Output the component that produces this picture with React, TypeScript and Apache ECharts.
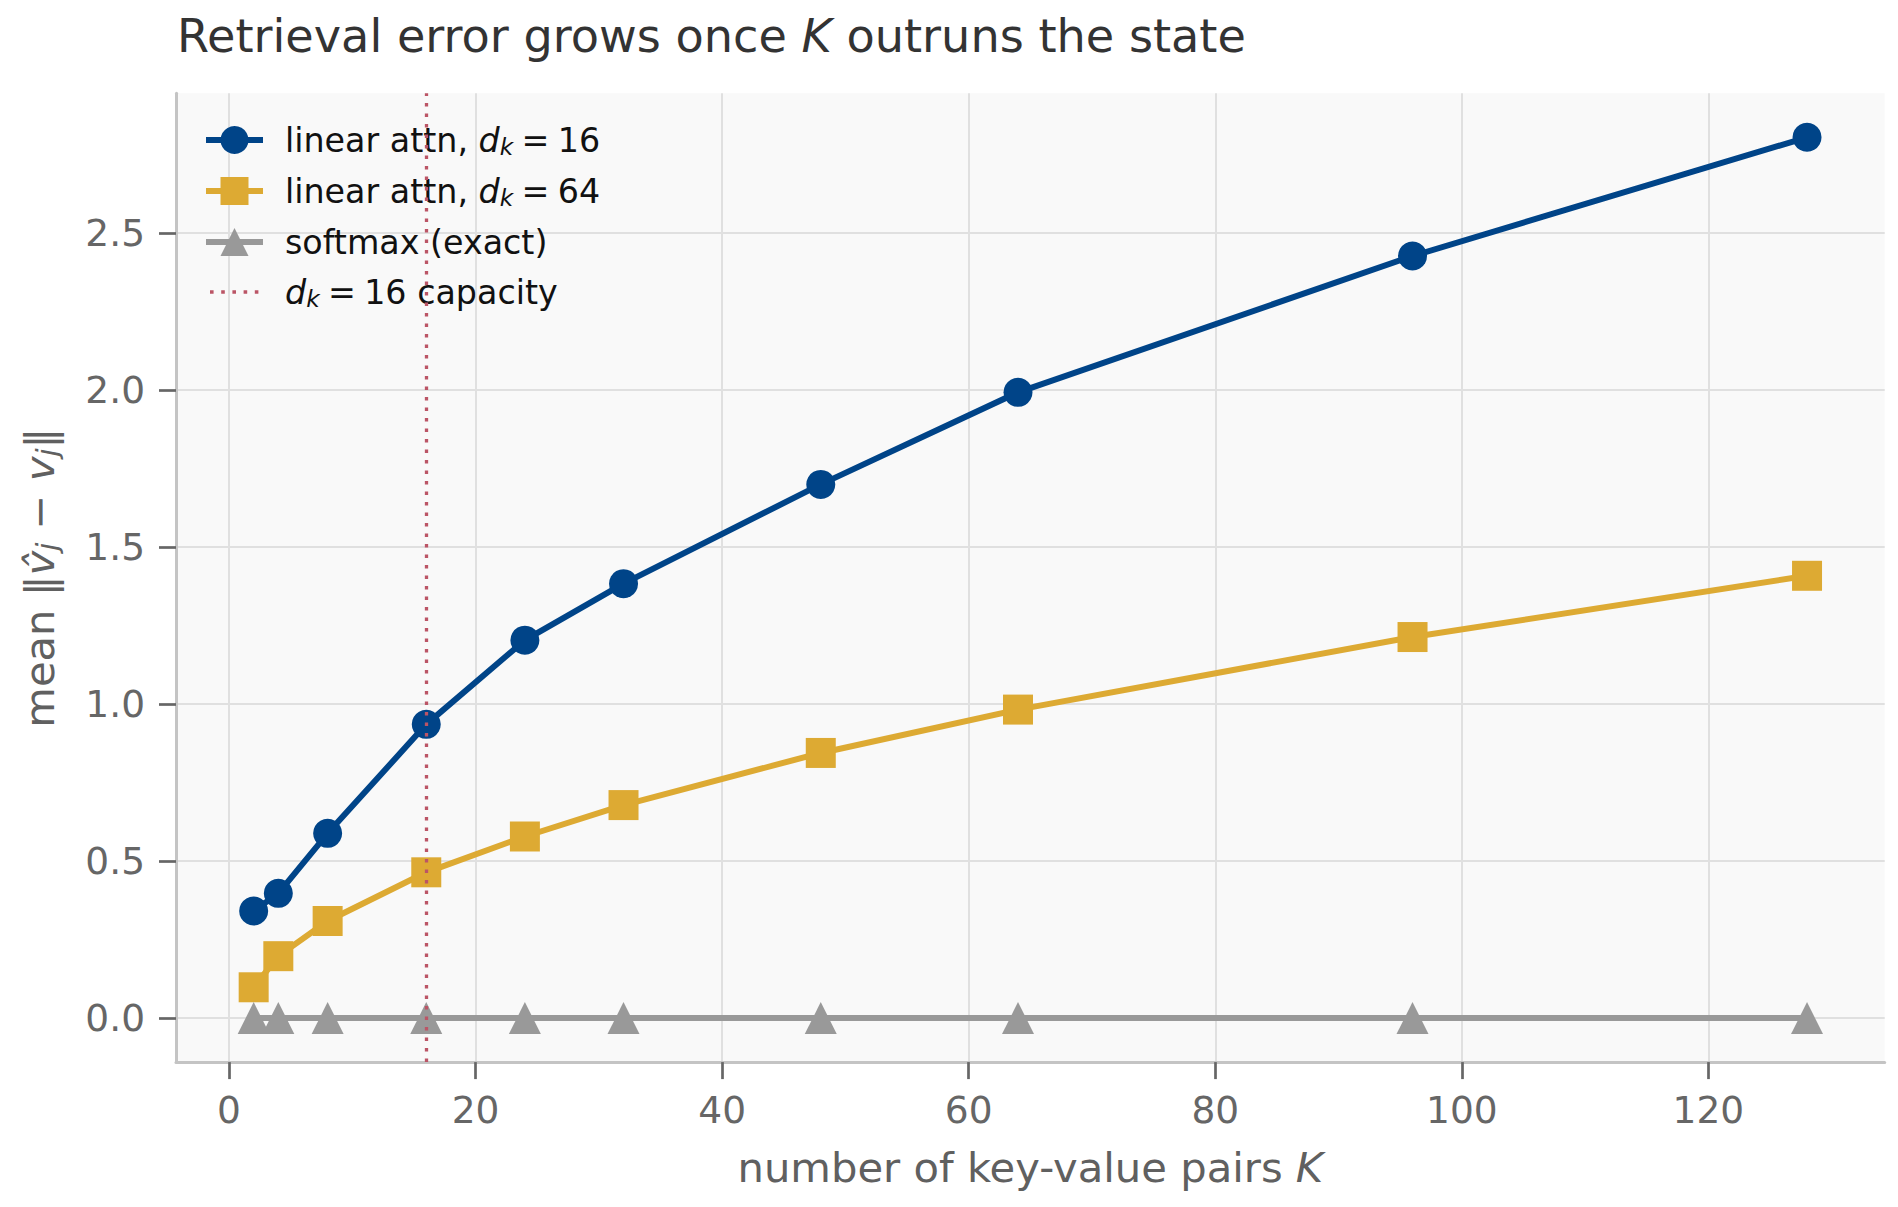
import React, { useEffect, useRef } from 'react';
import * as echarts from 'echarts';

// ---- data ----
const K = [2, 4, 8, 16, 24, 32, 48, 64, 96, 128];
const linearDk16 = [0.341, 0.397, 0.588, 0.935, 1.203, 1.383, 1.699, 1.992, 2.426, 2.804];
const linearDk64 = [0.098, 0.197, 0.309, 0.464, 0.578, 0.678, 0.844, 0.982, 1.213, 1.408];
const softmaxExact = [0, 0, 0, 0, 0, 0, 0, 0, 0, 0];
const capacityK = 16;
const xTicks = [0, 20, 40, 60, 80, 100, 120];
const yTicks = [0, 0.5, 1.0, 1.5, 2.0, 2.5];
const seriesNames = ['linear attn, d_k=16', 'linear attn, d_k=64', 'softmax (exact)', 'd_k=16 capacity'];
const EQ = '\u2005=\u2005';
const legendLabels: Record<string, string> = {
  'linear attn, d_k=16': `{g| }{t|linear attn, }{i|d}{s|k}{t|${EQ}16}`,
  'linear attn, d_k=64': `{g| }{t|linear attn, }{i|d}{s|k}{t|${EQ}64}`,
  'softmax (exact)': '{g| }{t|softmax (exact)}',
  'd_k=16 capacity': `{g| }{i|d}{s|k}{t|${EQ}16 capacity}`,
};

const FONT = 'DejaVu Sans';
const BLUE = '#004488';
const YELLOW = '#DDAA33';
const GREY = '#999999';
const RED = '#BB5566';

const dotsIcon =
  'path://M0,1.75h0.01v0.01h-0.01z M4,0h3.6v3.5h-3.6z M15.2,0h3.6v3.5h-3.6z M26.4,0h3.6v3.5h-3.6z M37.6,0h3.6v3.5h-3.6z M48.8,0h3.6v3.5h-3.6z M56.99,1.75h0.01v0.01h-0.01z';

export default function App() {
  const ref = useRef<HTMLDivElement>(null);
  useEffect(() => {
    if (!ref.current) return;
    const chart = echarts.init(ref.current, undefined, { renderer: 'svg' });
    const toPairs = (vals: number[]) => K.map((k, i) => [k, vals[i]]);
    const tickLabelStyle = { fontFamily: FONT, fontSize: 37.5, color: '#666666' };
    const option: any = {
      animation: false,
      backgroundColor: '#ffffff',
      title: {
        text: 'Retrieval error grows once {k|K} outruns the state',
        left: 177,
        top: 13,
        padding: 0,
        textStyle: {
          fontFamily: FONT,
          fontSize: 46.2,
          fontWeight: 'normal',
          color: '#333333',
          lineHeight: 46,
          rich: {
            k: { fontFamily: FONT, fontSize: 46.2, fontStyle: 'italic', color: '#333333', lineHeight: 46 },
          },
        },
      },
      grid: {
        left: 176,
        right: 13.3,
        top: 93.3,
        bottom: 144.9,
        show: true,
        backgroundColor: '#f9f9f9',
        borderWidth: 0,
        borderColor: 'transparent',
      },
      legend: {
        orient: 'vertical',
        left: 203,
        top: 123.5,
        padding: 0,
        itemWidth: 57,
        itemHeight: 35,
        itemGap: 17,
        selectedMode: false,
        lineStyle: { width: 6 },
        data: [
          { name: seriesNames[0] },
          { name: seriesNames[1] },
          { name: seriesNames[2] },
          { name: seriesNames[3], icon: dotsIcon },
        ],
        formatter: (name: string) => legendLabels[name] || name,
        textStyle: {
          fontFamily: FONT,
          fontSize: 33.3,
          color: '#111111',
          rich: {
            g: { width: 17, fontSize: 33.3, lineHeight: 35 },
            t: { fontFamily: FONT, fontSize: 33.3, color: '#111111', lineHeight: 35 },
            i: { fontFamily: FONT, fontSize: 33.3, fontStyle: 'italic', color: '#111111', lineHeight: 35 },
            s: {
              fontFamily: FONT,
              fontSize: 23.3,
              fontStyle: 'italic',
              color: '#111111',
              lineHeight: 22,
              verticalAlign: 'bottom',
            },
          },
        },
      },
      xAxis: {
        type: 'value',
        min: -4.3,
        max: 134.3,
        axisLine: { show: true, onZero: false, lineStyle: { color: '#c4c4c4', width: 3 } },
        axisTick: { show: true, length: 17, customValues: xTicks, lineStyle: { color: '#666666', width: 2.7 } },
        axisLabel: { customValues: xTicks, margin: 29, ...tickLabelStyle },
        splitLine: { show: true, lineStyle: { color: '#e0e0e0', width: 2 } },
        name: 'number of key-value pairs {k|K}',
        nameLocation: 'middle',
        nameGap: 84,
        nameTextStyle: {
          fontFamily: FONT,
          fontSize: 41.7,
          color: '#606060',
          rich: { k: { fontFamily: FONT, fontSize: 41.7, fontStyle: 'italic', color: '#606060' } },
        },
      },
      yAxis: {
        type: 'value',
        min: -0.1402,
        max: 2.944,
        axisLine: { show: true, onZero: false, lineStyle: { color: '#c4c4c4', width: 3 } },
        axisTick: { show: true, length: 17, customValues: yTicks, lineStyle: { color: '#666666', width: 2.7 } },
        axisLabel: {
          customValues: yTicks,
          margin: 31,
          formatter: (v: number) => v.toFixed(1),
          ...tickLabelStyle,
        },
        splitLine: { show: true, lineStyle: { color: '#e0e0e0', width: 2 } },
        name: 'mean {n|\u2016}{i|v\u0302}{s|j}{n| \u2212 }{i|v}{s|j}{n|\u2016}',
        nameLocation: 'middle',
        nameRotate: 90,
        nameGap: 115,
        nameTextStyle: {
          fontFamily: FONT,
          fontSize: 41.7,
          color: '#606060',
          lineHeight: 44,
          rich: {
            n: { fontFamily: FONT, fontSize: 41.7, color: '#606060', lineHeight: 44 },
            i: { fontFamily: FONT, fontSize: 41.7, fontStyle: 'italic', color: '#606060', lineHeight: 44 },
            s: {
              fontFamily: FONT,
              fontSize: 29,
              fontStyle: 'italic',
              color: '#606060',
              lineHeight: 28,
              verticalAlign: 'bottom',
            },
          },
        },
      },
      series: [
        {
          name: seriesNames[0],
          type: 'line',
          data: toPairs(linearDk16),
          symbol: 'circle',
          symbolSize: 29,
          lineStyle: { color: BLUE, width: 6 },
          itemStyle: { color: BLUE },
          z: 2,
        },
        {
          name: seriesNames[1],
          type: 'line',
          data: toPairs(linearDk64),
          symbol: 'rect',
          symbolSize: 30,
          lineStyle: { color: YELLOW, width: 6 },
          itemStyle: { color: YELLOW },
          z: 3,
        },
        {
          name: seriesNames[2],
          type: 'line',
          data: toPairs(softmaxExact),
          symbol: 'triangle',
          symbolSize: 32,
          lineStyle: { color: GREY, width: 6 },
          itemStyle: { color: GREY },
          z: 4,
        },
        {
          name: seriesNames[3],
          type: 'line',
          data: [],
          itemStyle: { color: RED },
          lineStyle: { color: RED },
          z: 5,
          markLine: {
            silent: true,
            symbol: ['none', 'none'],
            label: { show: false },
            lineStyle: { color: RED, width: 3.3, type: [3.5, 7] },
            data: [{ xAxis: capacityK }],
          },
        },
      ],
    };
    chart.setOption(option);
    return () => chart.dispose();
  }, []);
  return (
    <div
      ref={ref}
      style={{ position: 'fixed', left: 0, top: 0, width: 1898, height: 1207, background: '#ffffff' }}
    />
  );
}
